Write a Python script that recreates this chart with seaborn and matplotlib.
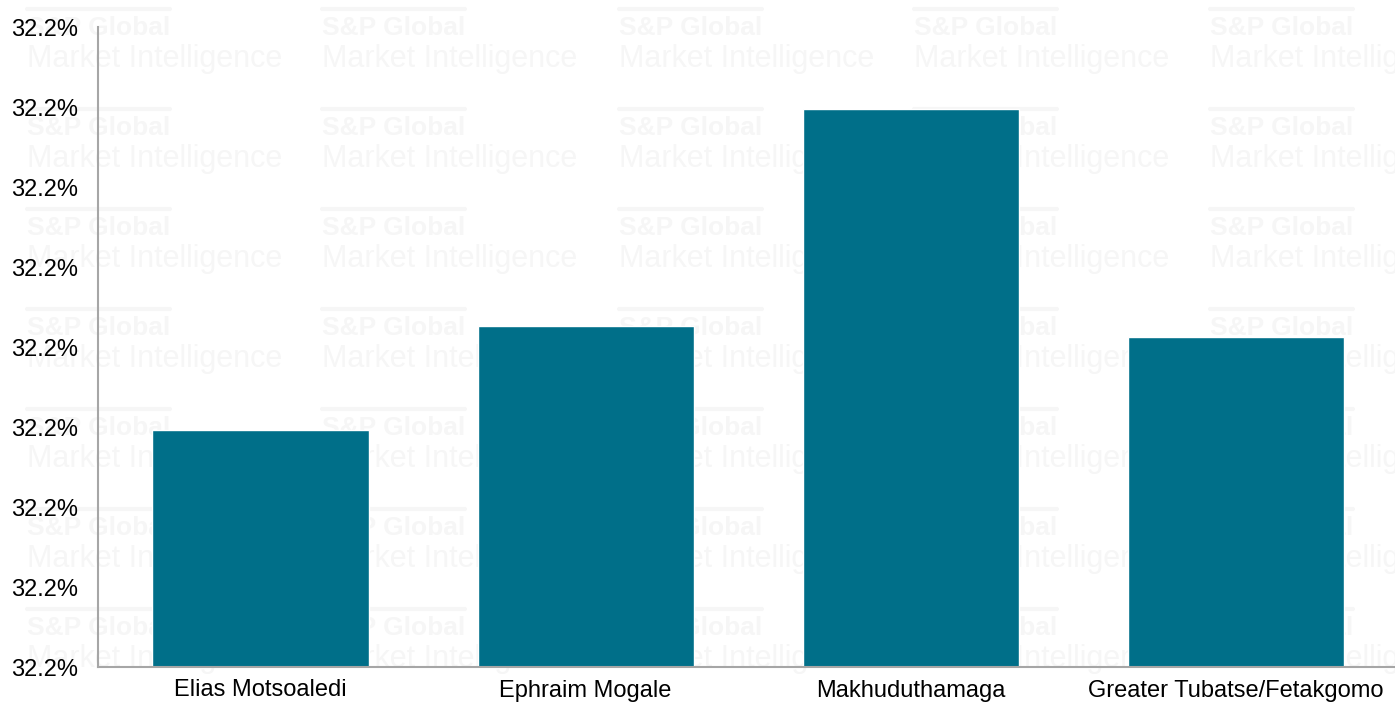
import matplotlib
matplotlib.use("Agg")
import matplotlib.pyplot as plt
import seaborn as sns
import pandas as pd
from matplotlib.ticker import FuncFormatter, MultipleLocator
from matplotlib.lines import Line2D

categories = ["Elias Motsoaledi", "Ephraim Mogale", "Makhuduthamaga", "Greater Tubatse/Fetakgomo"]
values = [32.2148, 32.2213, 32.2349, 32.2206]

sns.set_theme(style="white")
plt.rcParams['font.family'] = ['Liberation Sans', 'DejaVu Sans']

fig = plt.figure(figsize=(13.95, 7.07), dpi=100)
fig.patch.set_facecolor("white")

# watermark tiles behind the axes
wm_color = "#f6f6f6"
xs = [27, 322, 619, 914, 1210]
ys = [0, 100, 200, 300, 400, 500, 600]
for y in ys:
    for x in xs:
        fx = x / 1395
        fig.add_artist(Line2D([fx, (x + 143) / 1395], [1 - (y + 9) / 707] * 2,
                              color=wm_color, lw=3, zorder=-5))
        fig.text(fx, 1 - (y + 28) / 707, "S&P Global", color=wm_color,
                 fontsize=19, fontweight="bold", va="center", ha="left", zorder=-5)
        fig.text(fx, 1 - (y + 59) / 707, "Market Intelligence", color=wm_color,
                 fontsize=22, va="center", ha="left", zorder=-5)

ax = fig.add_axes([98 / 1395, 40 / 707, 1 - 98 / 1395, 640 / 707])
ax.set_zorder(5)
ax.patch.set_alpha(0)
df = pd.DataFrame({"cat": categories, "val": values})
sns.barplot(data=df, x="cat", y="val", color="#006F89", saturation=1, width=0.665, ax=ax)

ax.set_ylim(32.200, 32.240)
ax.set_xlim(-0.5, 3.49)
ax.yaxis.set_major_locator(MultipleLocator(0.005))
ax.yaxis.set_major_formatter(FuncFormatter(lambda v, p: f"{v:.1f}%"))
ax.set_xlabel("")
ax.set_ylabel("")
for s in ["top", "right"]:
    ax.spines[s].set_visible(False)
for s in ["left", "bottom"]:
    ax.spines[s].set_color("#a6a6a6")
    ax.spines[s].set_linewidth(1.5)
ax.tick_params(axis="both", length=0, labelsize=17, colors="black")
ax.tick_params(axis="y", pad=14)
ax.tick_params(axis="x", pad=9)
ax.grid(False)

fig.savefig("out.png", dpi=100, facecolor="white")
